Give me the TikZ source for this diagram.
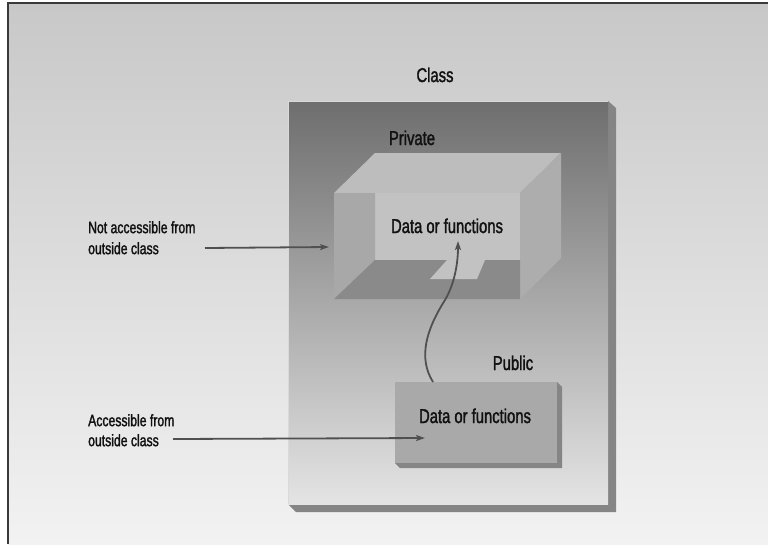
\documentclass[tikz,border=0pt]{standalone}
\usepackage{fontspec}
\setmainfont{Liberation Sans}[FakeStretch=0.74,FakeBold=1.6]
\usetikzlibrary{arrows.meta}
\definecolor{bgtop}{HTML}{C8C8C8}
\definecolor{bgbot}{HTML}{F2F2F2}
\definecolor{framec}{HTML}{3A3A3A}
\definecolor{clstop}{HTML}{6E6E6E}
\definecolor{clsmid}{HTML}{BEBEBE}
\definecolor{clsbot}{HTML}{E4E4E4}
\definecolor{shc}{HTML}{858585}
\definecolor{topface}{HTML}{BDBDBD}
\definecolor{rightface}{HTML}{ADADAD}
\definecolor{backwall}{HTML}{C2C2C2}
\definecolor{leftwall}{HTML}{A8A8A8}
\definecolor{floorc}{HTML}{8A8A8A}
\definecolor{pubc}{HTML}{A9A9A9}
\definecolor{arrc}{HTML}{505050}
\definecolor{txtc}{HTML}{111111}
\tikzset{
  lbl/.style={inner sep=0pt, text=txtc, font=\fontsize{20}{24}\selectfont},
  sidelbl/.style={inner sep=0pt, text=txtc, align=left, anchor=north west},
  arr/.style={draw=arrc, line width=1.8pt, -{Stealth[length=9pt,width=6pt,inset=2pt]}},
}
\begin{document}
\begin{tikzpicture}[x=1pt,y=-1pt]
\useasboundingbox (0,0) rectangle (768,544);
\fill[white] (0,0) rectangle (768,544);
% page background
\shade[top color=bgtop,bottom color=bgbot] (8,3) rectangle (768,544);
\draw[framec, line width=1.5pt] (8,544) -- (8,3) -- (768,3);
% class box
\fill[shc] (608,101) -- (616,108) -- (616,512) -- (296,512) -- (288,504) -- cycle;
\shade[top color=clstop, middle color=clsmid, bottom color=clsbot] (288,101) rectangle (608,504);
\draw[white!70!gray, line width=0.8pt] (288.5,504) -- (288.5,101.5) -- (608,101.5);
\node[lbl, anchor=base] (cls) at (435,82) {Class};
% private box
\fill[topface] (334,193) -- (520,193) -- (561,153) -- (375,153) -- cycle;
\fill[rightface] (520,193) -- (561,153) -- (561,258) -- (520,299) -- cycle;
\fill[backwall] (375,193) rectangle (520,260);
\fill[leftwall] (334,193) -- (375,193) -- (375,260) -- (334,299) -- cycle;
\fill[floorc] (375,260) -- (520,260) -- (520,299) -- (334,299) -- cycle;
\fill[backwall] (447,260) -- (485,260) -- (477,279) -- (430,279) -- cycle;
\node[lbl, anchor=base] (priv) at (412,145) {Private};
\node[lbl, anchor=base] (pdata) at (447,233) {Data or functions};
% public box
\fill[shc] (557,382) -- (562,387) -- (562,468) -- (400,468) -- (395,463) -- cycle;
\node[fill=pubc, inner sep=0pt, minimum width=162pt, minimum height=81pt] (pub) at (476,422.5) {};
\node[lbl, anchor=base] (pubdata) at (475,423) {Data or functions};
\node[lbl, anchor=base] (publ) at (513,370) {Public};
% side labels
\node[sidelbl, font=\fontsize{16.5}{21}\selectfont] (nacc) at (88,221) {Not accessible from\\outside class};
\node[sidelbl, font=\fontsize{16.5}{20}\selectfont] (acc) at (88,414) {Accessible from\\outside class};
% arrows
\coordinate (na1) at (205,248);
\coordinate (na2) at (329,247);
\coordinate (a1) at (173,439);
\coordinate (a2) at (425,438);
\coordinate (cs) at (433,382);
\coordinate (cm) at (445,300);
\coordinate (ct) at (458,241);
\draw[arr] (na1) -- (na2);
\draw[arr] (a1) -- (a2);
\draw[arr] (cs) .. controls (418,358) and (426,330) .. (cm) .. controls (455,283) and (458,262) .. (ct);
\end{tikzpicture}
\end{document}
